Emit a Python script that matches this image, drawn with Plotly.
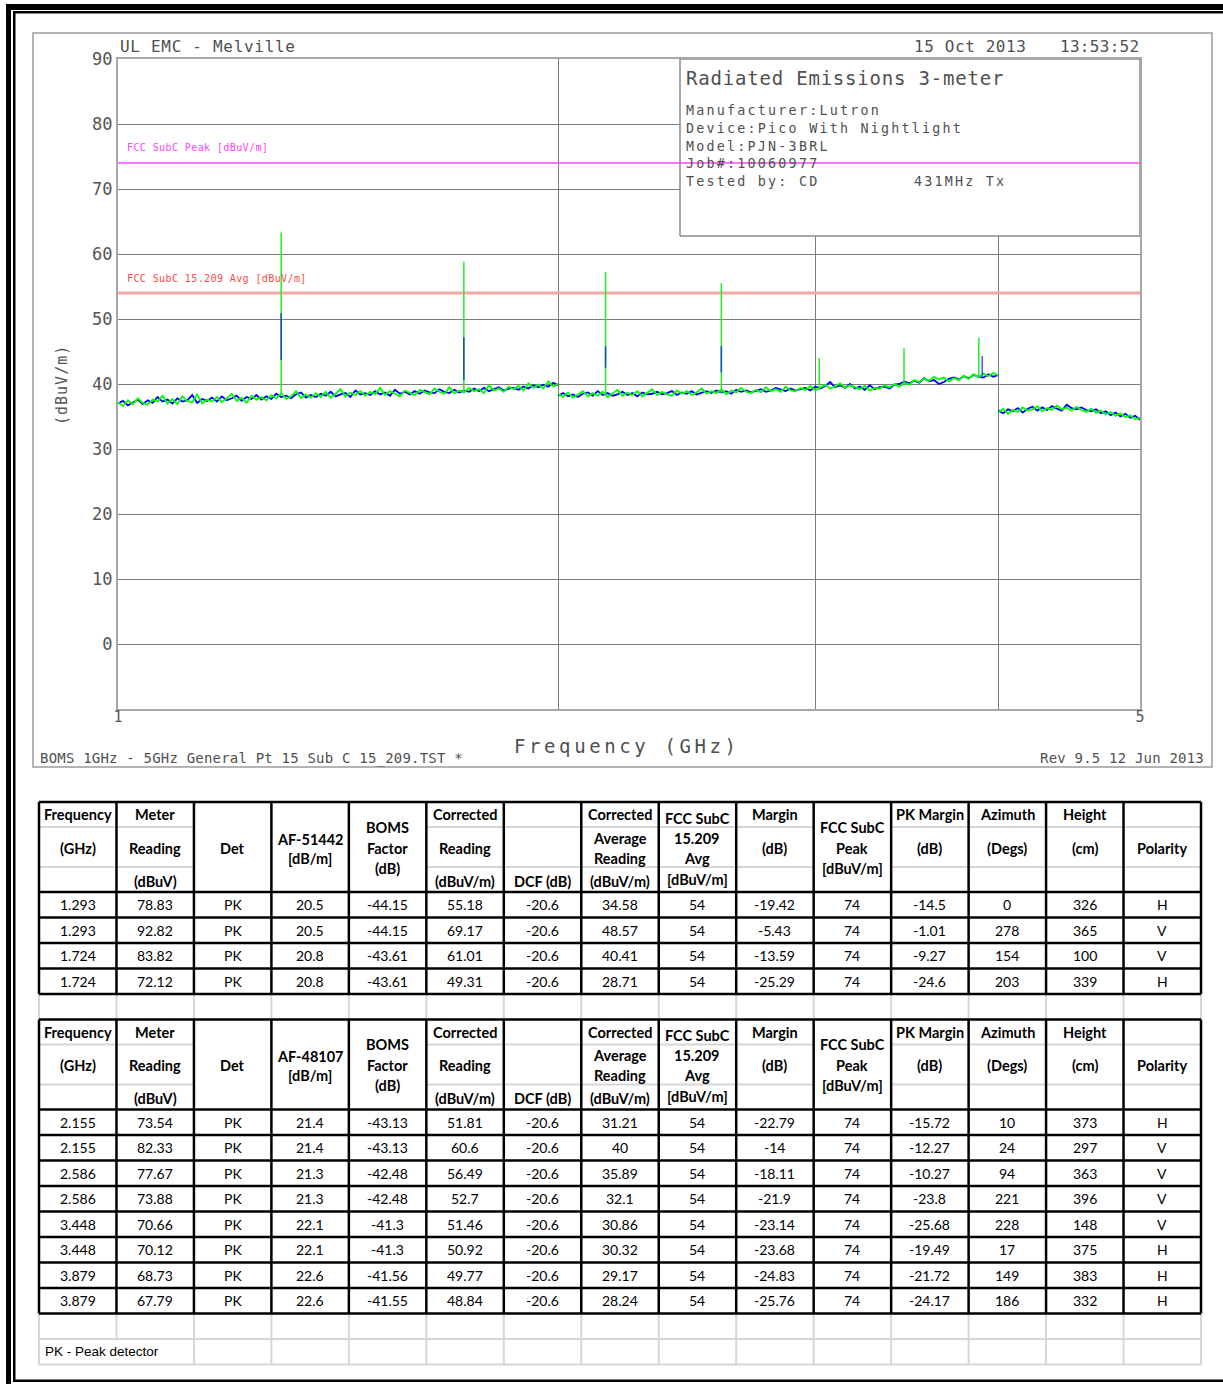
import numpy as np
import plotly.graph_objects as go

W, H = 1223, 1384

# ---------------- spectrum data (dBuV/m) ----------------
# three sweep segments: 1-2 GHz, 2-4 GHz, 4-5 GHz
seg1_green = [
    37.2, 36.6, 37.5, 36.9, 37.8, 37.1, 36.8, 37.6, 37.3, 38.2,
    37.0, 37.7, 36.9, 38.1, 37.4, 37.2, 38.4, 37.0, 37.6, 37.3,
    38.0, 37.2, 37.8, 38.5, 37.4, 37.9, 37.1, 38.2, 37.6, 38.0,
    37.5, 38.3, 37.8, 38.6, 37.7, 38.1, 38.9, 37.8, 38.4, 37.9,
    38.6, 38.0, 38.8, 37.9, 38.5, 39.2, 38.1, 38.7, 38.3, 38.9,
    38.2, 38.8, 38.4, 39.4, 38.3, 38.9, 38.5, 38.1, 39.0, 38.6,
    38.3, 39.1, 38.7, 38.4, 39.3, 38.8, 38.5, 39.5, 38.6, 39.0,
    38.7, 39.4, 38.9, 39.2, 38.6, 39.8, 39.0, 39.3, 38.8, 39.6,
    39.2, 39.7, 39.0, 40.1, 39.4, 39.9, 39.3, 40.4, 39.6, 40.0]
seg1_blue = [
    37.0, 37.4, 36.7, 37.2, 37.6, 36.9, 37.5, 37.1, 38.0, 37.3,
    37.6, 37.0, 37.8, 37.3, 37.5, 38.3, 37.1, 37.7, 37.4, 37.9,
    37.3, 38.1, 37.5, 37.8, 38.2, 37.4, 38.0, 37.7, 38.3, 37.6,
    38.1, 37.7, 38.5, 38.0, 38.2, 37.8, 38.4, 38.7, 37.9, 38.3,
    38.0, 38.5, 38.2, 38.8, 38.1, 38.4, 38.6, 38.0, 39.0, 38.4,
    38.6, 38.3, 38.9, 38.4, 38.7, 38.2, 39.1, 38.5, 38.8, 38.4,
    38.9, 38.5, 39.0, 38.7, 38.6, 39.2, 38.8, 38.6, 39.1, 38.7,
    39.0, 38.8, 39.3, 38.9, 39.4, 38.9, 39.2, 39.5, 39.0, 39.3,
    39.4, 39.1, 39.6, 39.3, 39.8, 39.5, 39.9, 39.6, 40.2, 39.8]
seg2_green = [
    38.5, 38.0, 38.7, 37.9, 38.4, 38.9, 38.1, 38.6, 38.2, 38.8,
    38.0, 38.5, 39.1, 38.2, 38.7, 38.3, 38.9, 38.1, 38.6, 39.2,
    38.3, 38.8, 38.4, 38.2, 39.0, 38.5, 38.9, 38.3, 38.7, 39.3,
    38.5, 38.9, 38.6, 39.2, 38.4, 39.0, 38.7, 39.4, 38.8, 38.6,
    39.1, 38.7, 39.5, 38.9, 39.2, 38.8, 39.6, 39.0, 38.9, 39.4,
    39.1, 39.7, 39.0, 39.4, 39.9, 39.3, 39.6, 40.1, 39.4, 39.8,
    39.5, 39.2, 39.7, 39.0, 39.4, 39.3, 39.8, 39.5, 40.0, 39.6,
    40.2, 39.9, 40.6, 40.3, 40.8, 40.5, 41.1, 40.7, 41.0, 40.4,
    40.9, 40.6, 41.3, 40.8, 41.5, 41.0, 41.6, 41.2, 41.7, 41.3]
seg2_blue = [
    38.2, 38.6, 38.1, 38.4, 38.0, 38.5, 38.7, 38.2, 38.9, 38.3,
    38.6, 38.2, 38.4, 38.8, 38.3, 38.6, 38.1, 38.7, 38.4, 38.5,
    38.8, 38.4, 38.6, 38.9, 38.3, 38.7, 38.5, 38.9, 38.4, 38.6,
    38.9, 38.6, 39.0, 38.7, 38.9, 38.5, 39.1, 38.8, 39.0, 38.7,
    38.9, 39.2, 38.8, 39.0, 39.4, 39.1, 38.9, 39.3, 39.0, 39.2,
    39.4, 39.0, 39.6, 39.3, 39.7, 40.3, 39.5, 39.8, 39.4, 40.0,
    39.3, 39.6, 39.1, 39.8, 39.2, 39.5, 39.6, 39.3, 39.9, 40.0,
    40.4, 40.1, 40.5, 40.2, 40.9, 40.4, 40.6, 40.0, 40.3, 40.8,
    41.0, 40.7, 41.2, 40.9, 41.4, 41.1, 41.0, 41.5, 41.1, 41.4]
seg3_green = [
    35.6, 36.2, 35.4, 36.0, 35.7, 36.4, 35.9, 36.1, 36.6, 35.8,
    36.3, 36.0, 36.7, 36.1, 36.4, 35.9, 36.5, 36.0, 35.7, 36.2,
    35.6, 35.9, 35.3, 35.7, 35.1, 35.5, 34.9, 35.2, 34.6, 34.8]
seg3_blue = [
    35.9, 35.5, 36.1, 35.8, 36.3, 35.6, 36.2, 36.5, 35.9, 36.4,
    36.0, 36.6, 36.2, 35.9, 36.8, 36.3, 36.1, 36.4, 36.0, 35.8,
    36.1, 35.5, 35.8, 35.2, 35.6, 35.0, 35.4, 34.8, 35.1, 34.5]

# sweep frequency grids (GHz)
seg1_freq = np.geomspace(1.0, 2.0, len(seg1_green))
seg2_freq = np.geomspace(2.0, 4.0, len(seg2_green))
seg3_freq = np.geomspace(4.0, 5.0, len(seg3_green))

# emission spikes (harmonics of 431 MHz)
green_spike_freq = [1.293, 1.724, 2.155, 2.586, 3.017, 3.448, 3.879]
green_spike_peak = [63.3, 58.8, 57.2, 55.5, 44.0, 45.5, 47.1]
green_spike_base = [38.3, 38.8, 38.4, 38.6, 39.1, 39.8, 41.2]
blue_spike_freq = [1.293, 1.724, 2.155, 2.586, 3.900]
blue_spike_top = [50.9, 47.2, 45.8, 45.8, 44.3]
blue_spike_low = [43.7, 40.6, 42.5, 41.8, 41.3]

peak_limit = 74
avg_limit = 54

y_ticks = [-10, 0, 10, 20, 30, 40, 50, 60, 70, 80, 90]
x_ticks = [1, 2, 3, 4, 5]
x_tick_text = ['1', '', '', '', '5']

# ---------------- table data ----------------
header1 = [["Frequency", "(GHz)"], ["Meter", "Reading", "(dBuV)"], ["Det"],
           ["AF-51442", "[dB/m]"], ["BOMS", "Factor", "(dB)"],
           ["Corrected", "Reading", "(dBuV/m)"], ["DCF (dB)"],
           ["Corrected", "Average", "Reading", "(dBuV/m)"],
           ["FCC SubC", "15.209", "Avg", "[dBuV/m]"], ["Margin", "(dB)"],
           ["FCC SubC", "Peak", "[dBuV/m]"], ["PK Margin", "(dB)"],
           ["Azimuth", "(Degs)"], ["Height", "(cm)"], ["Polarity"]]
header2 = [h if i != 3 else ["AF-48107", "[dB/m]"] for i, h in enumerate(header1)]

t1_freq = [1.293, 1.293, 1.724, 1.724]
t1_meter = [78.83, 92.82, 83.82, 72.12]
t1_det = ["PK", "PK", "PK", "PK"]
t1_af = [20.5, 20.5, 20.8, 20.8]
t1_boms = [-44.15, -44.15, -43.61, -43.61]
t1_corr = [55.18, 69.17, 61.01, 49.31]
t1_dcf = [-20.6, -20.6, -20.6, -20.6]
t1_corr_avg = [34.58, 48.57, 40.41, 28.71]
t1_fcc_avg = [54, 54, 54, 54]
t1_margin = [-19.42, -5.43, -13.59, -25.29]
t1_fcc_pk = [74, 74, 74, 74]
t1_pk_margin = [-14.5, -1.01, -9.27, -24.6]
t1_azimuth = [0, 278, 154, 203]
t1_height = [326, 365, 100, 339]
t1_pol = ["H", "V", "V", "H"]

t2_freq = [2.155, 2.155, 2.586, 2.586, 3.448, 3.448, 3.879, 3.879]
t2_meter = [73.54, 82.33, 77.67, 73.88, 70.66, 70.12, 68.73, 67.79]
t2_det = ["PK"] * 8
t2_af = [21.4, 21.4, 21.3, 21.3, 22.1, 22.1, 22.6, 22.6]
t2_boms = [-43.13, -43.13, -42.48, -42.48, -41.3, -41.3, -41.56, -41.55]
t2_corr = [51.81, 60.6, 56.49, 52.7, 51.46, 50.92, 49.77, 48.84]
t2_dcf = [-20.6] * 8
t2_corr_avg = [31.21, 40, 35.89, 32.1, 30.86, 30.32, 29.17, 28.24]
t2_fcc_avg = [54] * 8
t2_margin = [-22.79, -14, -18.11, -21.9, -23.14, -23.68, -24.83, -25.76]
t2_fcc_pk = [74] * 8
t2_pk_margin = [-15.72, -12.27, -10.27, -23.8, -25.68, -19.49, -21.72, -24.17]
t2_azimuth = [10, 24, 94, 221, 228, 17, 149, 186]
t2_height = [373, 297, 363, 396, 148, 375, 383, 332]
t2_pol = ["H", "V", "V", "V", "V", "H", "H", "H"]

footnote = "PK - Peak detector"

# ---------------- helpers ----------------
PL, PR, PT, PB = 118, 1140, 59, 709          # plot area in page pixels
LOG5 = np.log10(5)


def xp(x):
    return x / W


def yp(y):
    return 1 - y / H


def freq_at(xpix):
    return 10 ** ((xpix - PL) / (PR - PL) * LOG5)


def level_at(ypix):
    return 90 - (ypix - PT) / (PB - PT) * 100


PLOT_FONT = "DejaVu Sans Mono"
TXT = "#505050"

fig = go.Figure()

# avg limit line under spectrum
fig.add_trace(go.Scatter(x=[1, 5], y=[avg_limit, avg_limit], mode="lines",
                         line=dict(color="#f7a6a6", width=3), hoverinfo="skip"))

x_all = list(seg1_freq) + [None] + list(seg2_freq) + [None] + list(seg3_freq)
blue_all = seg1_blue + [None] + seg2_blue + [None] + seg3_blue
green_all = seg1_green + [None] + seg2_green + [None] + seg3_green

fig.add_trace(go.Scatter(x=x_all, y=blue_all, mode="lines",
                         line=dict(color="#0000ff", width=1.8), hoverinfo="skip"))
fig.add_trace(go.Scatter(x=x_all, y=green_all, mode="lines",
                         line=dict(color="#00ff00", width=1.8), hoverinfo="skip"))

sx, sy = [], []
for f, b, p in zip(green_spike_freq, green_spike_base, green_spike_peak):
    sx += [f, f, None]
    sy += [b, p, None]
fig.add_trace(go.Scatter(x=sx, y=sy, mode="lines",
                         line=dict(color="#22ee22", width=1.5), hoverinfo="skip"))
bx, by = [], []
for f, lo, hi in zip(blue_spike_freq, blue_spike_low, blue_spike_top):
    bx += [f, f, None]
    by += [lo, hi, None]
fig.add_trace(go.Scatter(x=bx, y=by, mode="lines", opacity=0.65,
                         line=dict(color="#0000ff", width=1.6), hoverinfo="skip"))

# white info box (covers gridlines, sits under the peak limit line)
bx0, by0 = freq_at(680), level_at(236)
fig.add_trace(go.Scatter(x=[bx0, 5, 5, bx0, bx0], y=[by0, by0, 90, 90, by0],
                         mode="lines", fill="toself", fillcolor="white",
                         line=dict(color="#8a8a8a", width=1.5), hoverinfo="skip"))

fig.add_trace(go.Scatter(x=[1, 5], y=[peak_limit, peak_limit], mode="lines",
                         line=dict(color="#ff44ff", width=1.3), hoverinfo="skip"))

axis_common = dict(showgrid=True, gridcolor="#7c7c7c", gridwidth=1, zeroline=False,
                   showline=True, linecolor="#a8a8a8", linewidth=2, mirror=True,
                   ticks="", automargin=False)

fig.update_layout(
    width=W, height=H, autosize=False,
    margin=dict(l=0, r=0, t=0, b=0, pad=0, autoexpand=False),
    paper_bgcolor="white", plot_bgcolor="white",
    showlegend=False,
    xaxis=dict(type="log", range=[0, LOG5], domain=[PL / W, PR / W],
               tickvals=x_ticks, ticktext=x_tick_text, ticklabelstandoff=-7,
               tickfont=dict(family=PLOT_FONT, size=15, color="#555555"),
               **axis_common),
    yaxis=dict(range=[-10, 90], domain=[1 - PB / H, 1 - PT / H],
               tickvals=y_ticks, ticktext=[""] + [str(v) for v in y_ticks[1:]],
               ticklabelstandoff=0,
               tickfont=dict(family=PLOT_FONT, size=17, color="#555555"),
               **axis_common),
)

shapes = []
annotations = []


def rect(x0, y0, x1, y1, fill=None, line_color=None, lw=0):
    d = dict(type="rect", xref="paper", yref="paper",
             x0=xp(x0), x1=xp(x1), y0=yp(y1), y1=yp(y0), layer="above")
    if fill:
        d["fillcolor"] = fill
    d["line"] = dict(color=line_color, width=lw) if line_color else dict(width=0)
    shapes.append(d)


def line(x0, y0, x1, y1, color, width):
    shapes.append(dict(type="line", xref="paper", yref="paper",
                       x0=xp(x0), x1=xp(x1), y0=yp(y0), y1=yp(y1),
                       line=dict(color=color, width=width), layer="above"))


def text(x, y, s, size=14, color=TXT, family=PLOT_FONT, xanchor="left", angle=0, ls=0):
    if ls:
        s = '<span style="letter-spacing:%.2fpx">%s</span>' % (ls, s)
    annotations.append(dict(x=xp(x), y=yp(y), xref="paper", yref="paper", text=s,
                            showarrow=False, xanchor=xanchor, yanchor="middle",
                            textangle=angle,
                            font=dict(family=family, size=size, color=color)))


# page borders
rect(6, 4, 11, H, fill="black")
rect(6, 4, W, 10, fill="black")
rect(13, 11, 15.5, 1382, fill="black")
rect(13, 11, W, 13.5, fill="black")
rect(13, 1379.5, W, 1382, fill="black")

# chart frame
rect(33, 33, 1212, 767, line_color="#9c9c9c", lw=1.5)

# chart texts
text(118, 46, "UL EMC - Melville", size=16, ls=0.7)
text(912, 46, "15 Oct 2013", size=16, ls=0.6)
text(1058, 46, "13:53:52", size=16, ls=0.3)
text(684, 78, "Radiated Emissions 3-meter", size=19, ls=0.8)
info_lines = ["Manufacturer:Lutron", "Device:Pico With Nightlight", "Model:PJN-3BRL",
              "Job#:10060977", "Tested by: CD"]
for i, s in enumerate(info_lines):
    text(684, 111 + i * 17.5, s, size=13.4, ls=2.2)
text(912, 181, "431MHz Tx", size=13.4, ls=2.2)
text(125, 147, "FCC SubC Peak [dBuV/m]", size=10, color="#ff44ff", ls=0.4)
text(125, 278, "FCC SubC 15.209 Avg [dBuV/m]", size=10, color="#ff4848", ls=0.4)
text(62, 385, "(dBuV/m)", size=15, color="#555555", xanchor="center", angle=-90, ls=1)
text(627, 746, "Frequency (GHz)", size=19, xanchor="center", ls=3.6)
text(38, 758, "BOMS 1GHz - 5GHz General Pt 15 Sub C 15_209.TST *", size=14, ls=0.2)
text(1206, 758, "Rev 9.5 12 Jun 2013", size=14, xanchor="right", ls=0.2)

# ---------------- tables ----------------
TBL_FONT = "Lato"
col_x = [39 + k * (1162 / 15) for k in range(16)]
ROW_H = 25.5
HEAD_H = 90
head_offsets = [[13, 46], [13, 46, 79], [46], [37, 56], [25, 46, 66], [13, 46, 79], [79],
                [13, 36, 56, 79], [16, 36, 56, 77], [13, 46], [25, 46, 66], [13, 46],
                [13, 46], [13, 46], [46]]
sub_line_cols = [0, 1, 5, 6, 7, 8, 9, 11, 12, 13, 14]
LIGHT = "#d6d6d6"


def fmt(v):
    return v if isinstance(v, str) else f"{v:g}"


def draw_table(top, header, columns):
    nrows = len(columns[0])
    bottom = top + HEAD_H + nrows * ROW_H
    for c in sub_line_cols:
        for off in (25, 65):
            line(col_x[c], top + off, col_x[c + 1], top + off, LIGHT, 2)
    for c, (lines_, offs) in enumerate(zip(header, head_offsets)):
        cx = (col_x[c] + col_x[c + 1]) / 2
        for s, o in zip(lines_, offs):
            text(cx, top + o, "<b>" + s + "</b>", size=14.5, color="black",
                 family=TBL_FONT, xanchor="center")
    for r in range(nrows):
        cy = top + HEAD_H + r * ROW_H + ROW_H / 2
        for c, col in enumerate(columns):
            cx = (col_x[c] + col_x[c + 1]) / 2
            text(cx, cy, fmt(col[r]), size=14, color="black",
                 family=TBL_FONT, xanchor="center")
    for k in range(16):
        line(col_x[k], top, col_x[k], bottom, "black", 2.5)
    line(col_x[0], top, col_x[15], top, "black", 2.5)
    for r in range(nrows + 1):
        yy = top + HEAD_H + r * ROW_H
        line(col_x[0], yy, col_x[15], yy, "black", 2.5)
    return bottom


cols1 = [t1_freq, t1_meter, t1_det, t1_af, t1_boms, t1_corr, t1_dcf, t1_corr_avg,
         t1_fcc_avg, t1_margin, t1_fcc_pk, t1_pk_margin, t1_azimuth, t1_height, t1_pol]
cols2 = [t2_freq, t2_meter, t2_det, t2_af, t2_boms, t2_corr, t2_dcf, t2_corr_avg,
         t2_fcc_avg, t2_margin, t2_fcc_pk, t2_pk_margin, t2_azimuth, t2_height, t2_pol]

T1 = 802
b1 = T1 + HEAD_H + len(t1_freq) * ROW_H
T2 = b1 + ROW_H
b2 = T2 + HEAD_H + len(t2_freq) * ROW_H

for k in range(16):
    line(col_x[k], b1, col_x[k], T2, LIGHT, 2)
    line(col_x[k], b2, col_x[k], b2 + ROW_H, LIGHT, 2)
    if k != 1:
        line(col_x[k], b2 + ROW_H, col_x[k], b2 + 2 * ROW_H, LIGHT, 2)
line(col_x[0], b2 + ROW_H, col_x[15], b2 + ROW_H, LIGHT, 2)
line(col_x[0], b2 + 2 * ROW_H, col_x[15], b2 + 2 * ROW_H, LIGHT, 2)

draw_table(T1, header1, cols1)
draw_table(T2, header2, cols2)

text(43, b2 + 1.5 * ROW_H, footnote, size=13.5, color="black", family="Liberation Sans")

fig.update_layout(shapes=shapes, annotations=annotations)

post = ("var d=document.getElementById('{plot_id}');"
        "d.style.position='fixed';d.style.left='0px';d.style.top='0px';"
        "document.body.style.margin='0px';"
        "document.documentElement.style.overflow='hidden';"
        "document.body.style.overflow='hidden';")
fig.write_html("out.html", config={"displayModeBar": False}, post_script=post)
